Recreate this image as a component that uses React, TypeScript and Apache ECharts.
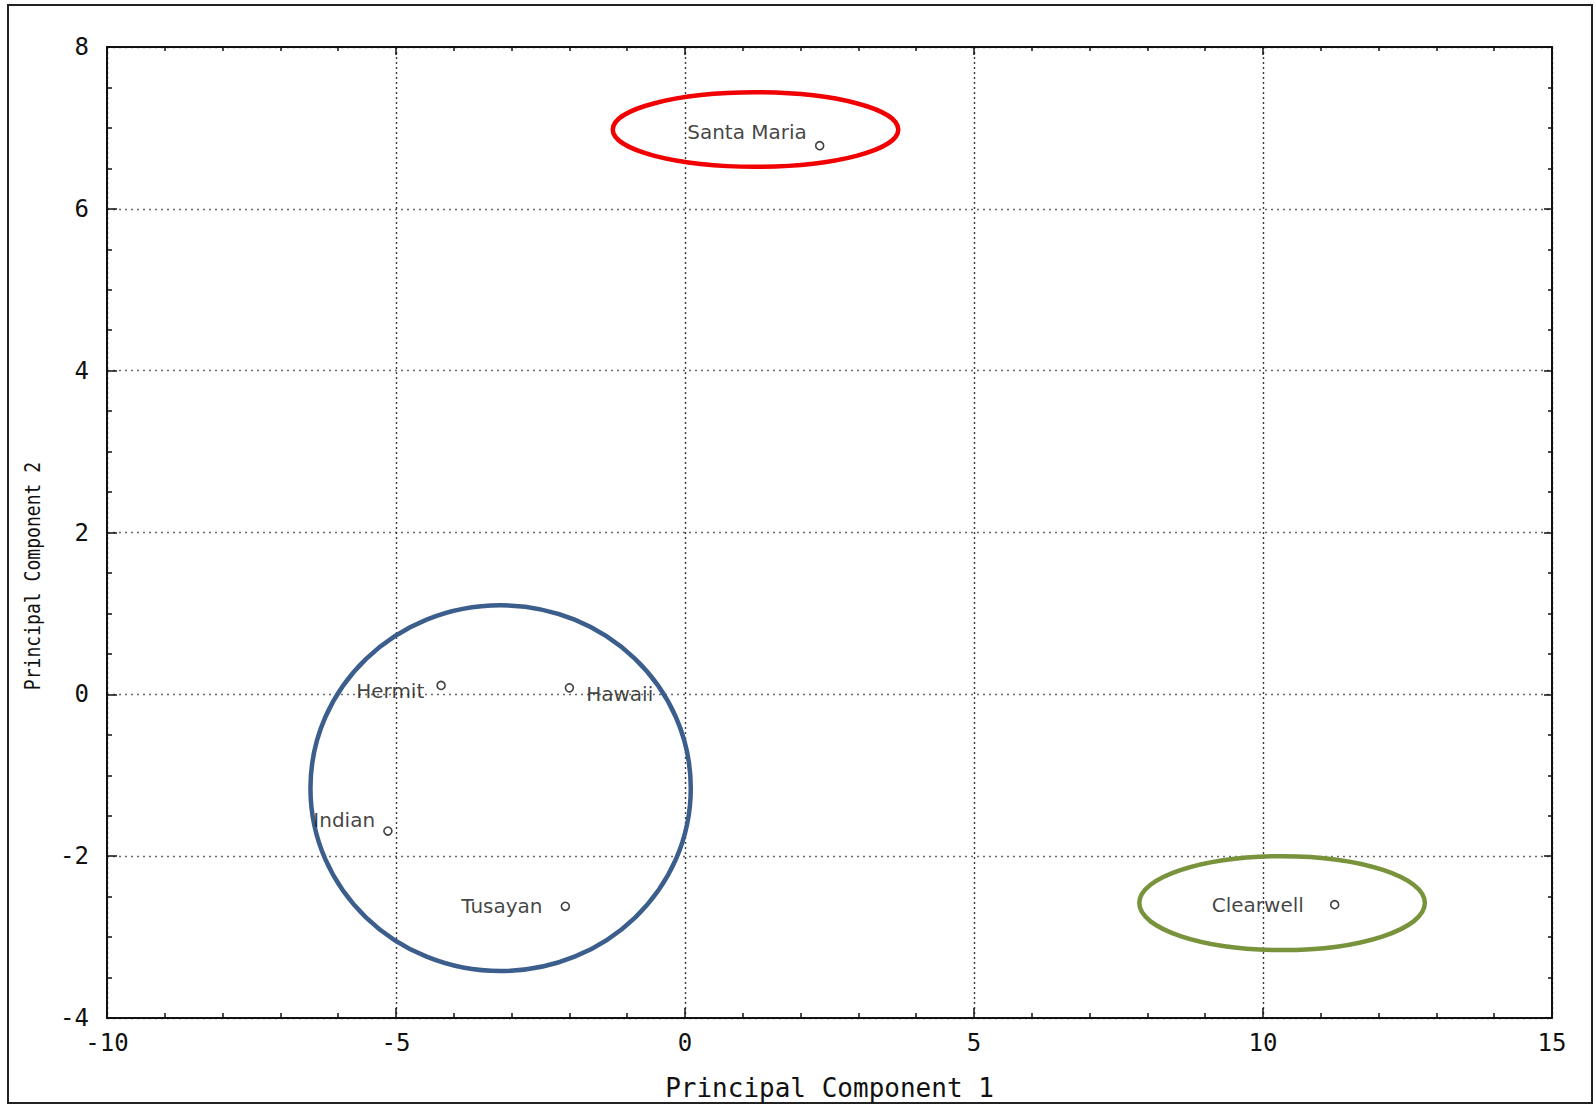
import React, { useEffect, useRef } from "react";
import * as echarts from "echarts";

// Site scores on the first two principal components
const sites = ["Santa Maria", "Hermit", "Hawaii", "Indian", "Tusayan", "Clearwell"];
const pc1 = [2.33, -4.22, -2.0, -5.14, -2.07, 11.24];
const pc2 = [6.78, 0.11, 0.08, -1.69, -2.62, -2.6];

// Where each site name sits relative to its point
const labelSide = ["left", "left", "right", "left", "left", "left"];
const labelGap = [8, 12, 12, 8, 18, 26];
const labelShift = [[0, -14], [0, 6], [0, 6], [0, -11], [0, 0], [0, 0]];

// Hand-drawn group outlines (centre and radii in data units)
const ringCx = [1.22, -3.19, 10.33];
const ringCy = [6.98, -1.16, -2.58];
const ringRx = [2.47, 3.29, 2.47];
const ringRy = [0.46, 2.26, 0.58];
const ringColors = ["#F00000", "#3B5E8C", "#78933B"];

// Axis ranges
const xMin = -10;
const xMax = 15;
const xStep = 5;
const yMin = -4;
const yMax = 8;
const yStep = 2;

const MONO = "'DejaVu Sans Mono', 'Liberation Mono', monospace";
const SANS = "'DejaVu Sans', 'Liberation Sans', sans-serif";
const INK = "#111111";

export default function App() {
  const ref = useRef<HTMLDivElement>(null);

  useEffect(() => {
    document.body.style.margin = "0";
    if (!ref.current) return;
    const chart = echarts.init(ref.current, null, { renderer: "svg" });

    const frameAxis = (pos: string) => ({
      type: "value",
      position: pos,
      axisLine: { show: true, onZero: false, lineStyle: { color: INK, width: 2 } },
      axisTick: { show: true, inside: true, length: 8, lineStyle: { color: INK, width: 1.5 } },
      minorTick: { show: true, length: 4, lineStyle: { color: INK, width: 1.5 } },
      axisLabel: { show: false },
      splitLine: { show: false },
    });

    const points = sites.map((name, i) => ({
      name,
      value: [pc1[i], pc2[i]],
      label: {
        position: labelSide[i],
        distance: labelGap[i],
        offset: labelShift[i],
      },
    }));

    const rings = ringCx.map((cx, i) => [cx, ringCy[i], ringRx[i], ringRy[i]]);

    chart.setOption({
      animation: false,
      backgroundColor: "#ffffff",
      grid: { left: 107, top: 47, width: 1445, height: 971, containLabel: false },
      xAxis: [
        {
          type: "value",
          min: xMin,
          max: xMax,
          interval: xStep,
          position: "bottom",
          axisLine: { show: true, onZero: false, lineStyle: { color: INK, width: 2 } },
          axisTick: { show: true, inside: true, length: 10, lineStyle: { color: INK, width: 1.5 } },
          minorTick: { show: true, splitNumber: 5, length: 5, lineStyle: { color: INK, width: 1.5 } },
          axisLabel: { color: INK, fontFamily: MONO, fontSize: 24, margin: 13 },
          splitLine: { show: true, lineStyle: { color: "#3a3a3a", width: 1.4, type: [2, 3] } },
          name: "Principal Component 1",
          nameLocation: "middle",
          nameGap: 57,
          nameTextStyle: { color: INK, fontFamily: MONO, fontSize: 26 },
        },
        {
          ...frameAxis("top"),
          min: xMin,
          max: xMax,
          interval: xStep,
          minorTick: { show: true, splitNumber: 5, length: 4, lineStyle: { color: INK, width: 1.5 } },
        },
      ],
      yAxis: [
        {
          type: "value",
          min: yMin,
          max: yMax,
          interval: yStep,
          position: "left",
          axisLine: { show: true, onZero: false, lineStyle: { color: INK, width: 2 } },
          axisTick: { show: true, inside: true, length: 10, lineStyle: { color: INK, width: 1.5 } },
          minorTick: { show: true, splitNumber: 4, length: 5, lineStyle: { color: INK, width: 1.5 } },
          axisLabel: { color: INK, fontFamily: MONO, fontSize: 24, margin: 18 },
          splitLine: { show: true, lineStyle: { color: "#6a6a6a", width: 1.3, type: [2, 4] } },
        },
        {
          ...frameAxis("right"),
          min: yMin,
          max: yMax,
          interval: yStep,
          minorTick: { show: true, splitNumber: 4, length: 4, lineStyle: { color: INK, width: 1.5 } },
        },
      ],
      graphic: [
        {
          type: "rect",
          shape: { x: 8, y: 5, width: 1584, height: 1098 },
          style: { fill: "none", stroke: "#222", lineWidth: 2 },
          silent: true,
        },
        {
          type: "text",
          x: 33,
          y: 576,
          rotation: Math.PI / 2,
          scaleX: 0.86,
          style: {
            text: "Principal Component 2",
            fill: INK,
            font: `21px ${MONO}`,
            align: "center",
            verticalAlign: "middle",
          },
          silent: true,
        },
      ],
      series: [
        {
          type: "scatter",
          xAxisIndex: 0,
          yAxisIndex: 0,
          symbol: "circle",
          symbolSize: 8,
          itemStyle: { color: "#ffffff", borderColor: INK, borderWidth: 1.6 },
          label: {
            show: true,
            formatter: "{b}",
            color: INK,
            fontFamily: SANS,
            fontSize: 20,
          },
          data: points,
          z: 5,
        },
        {
          type: "custom",
          xAxisIndex: 0,
          yAxisIndex: 0,
          silent: true,
          z: 4,
          data: rings,
          renderItem: (params: any, api: any) => {
            const c = api.coord([api.value(0), api.value(1)]);
            const s = api.size([api.value(2), api.value(3)]);
            return {
              type: "ellipse",
              shape: { cx: c[0], cy: c[1], rx: s[0], ry: s[1] },
              style: { fill: "none", stroke: ringColors[params.dataIndex], lineWidth: 4.5 },
            };
          },
        },
      ],
    });

    return () => chart.dispose();
  }, []);

  return <div ref={ref} style={{ width: 1596, height: 1112 }} />;
}
